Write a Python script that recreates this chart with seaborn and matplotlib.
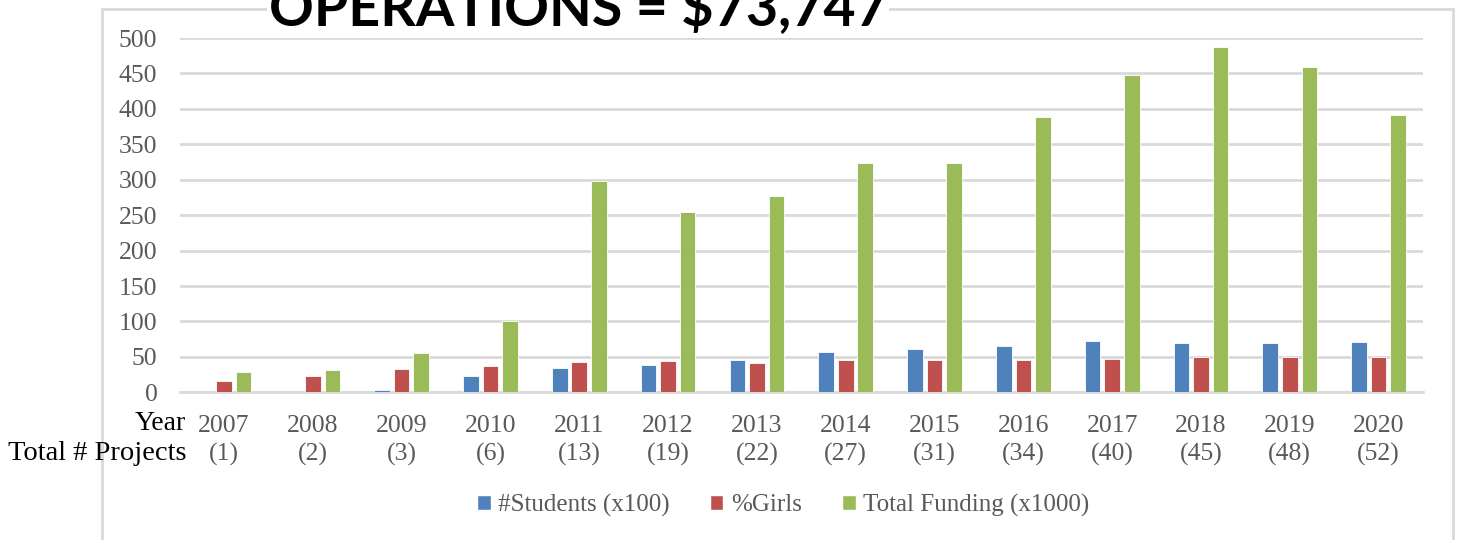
import pandas as pd
import matplotlib
matplotlib.use('Agg')
import matplotlib.pyplot as plt
import seaborn as sns
from matplotlib.patches import Rectangle

# values
years = ['2007', '2008', '2009', '2010', '2011', '2012', '2013',
         '2014', '2015', '2016', '2017', '2018', '2019', '2020']
projects = [1, 2, 3, 6, 13, 19, 22, 27, 31, 34, 40, 45, 48, 52]
students = [1, 1, 3, 22.5, 34, 38.5, 45.5, 56.8, 60.6, 65.7, 72.8, 70, 69, 70.9]
girls = [16, 23, 33, 37.5, 43, 44, 41.3, 45, 45, 45, 46.5, 49.3, 49.3, 50.2]
funding = [29, 31, 56, 100, 298, 254, 277, 323, 323, 389, 448, 488, 459, 391]
series = ['#Students (x100)', '%Girls', 'Total Funding (x1000)']
colors = ['#4F81BD', '#C0504D', '#9BBB59']

df = pd.DataFrame({'Year': years, series[0]: students, series[1]: girls, series[2]: funding})
long = df.melt(id_vars='Year', var_name='Series', value_name='Value')

sns.set_style('white')
plt.rcParams['font.family'] = ['Liberation Serif', 'DejaVu Serif']

fig = plt.figure(figsize=(14.58, 5.4), dpi=100)
ax = fig.add_axes([0.1232, 0.2735, 0.8528, 0.656])

sns.barplot(data=long, x='Year', y='Value', hue='Series', palette=colors, saturation=1,
            width=0.66, gap=0.2, ax=ax, legend=False, zorder=3,
            edgecolor='white', linewidth=0.6)

ax.set_ylim(0, 500)
ax.set_yticks(range(0, 501, 50))
ax.yaxis.grid(True, color='#D9D9D9', linewidth=2, zorder=0)
ax.set_axisbelow(True)
for s in ['top', 'right', 'left']:
    ax.spines[s].set_visible(False)
ax.spines['bottom'].set_color('#D9D9D9')
ax.spines['bottom'].set_linewidth(2)
ax.set_xlabel('')
ax.set_ylabel('')
ax.set_xticks(range(len(years)))
ax.set_xticklabels([f'{y}\n({p})' for y, p in zip(years, projects)], linespacing=1.35)
ax.tick_params(axis='x', length=0, pad=16, labelsize=18.5, labelcolor='#595959')
ax.tick_params(axis='y', length=0, pad=16, labelsize=18.5, labelcolor='#595959')

fig.text(186 / 1458, 1 - 423 / 540, 'Year', ha='right', va='center', fontsize=20, color='black',
         family=['Liberation Serif'])
fig.text(186 / 1458, 1 - 453 / 540, 'Total # Projects', ha='right', va='center', fontsize=20.5,
         color='black', family=['Liberation Serif'])

# outer chart frame
fig.patches.append(Rectangle((102 / 1458, -0.1), (1453 - 102) / 1458, 1.1 - 9 / 540,
                             transform=fig.transFigure, fill=False, edgecolor='#D9D9D9',
                             linewidth=2, zorder=0))

fig.text(578 / 1458, 1 - 25 / 540, 'OPERATIONS = $73,747', ha='center', va='baseline',
         fontsize=40, fontweight='bold', color='black',
         family=['Lato', 'DejaVu Sans'],
         bbox=dict(facecolor='white', edgecolor='none', pad=1), zorder=10)

handles = [Rectangle((0, 0), 1, 1, facecolor=c) for c in colors]
fig.legend(handles, series, loc='center', bbox_to_anchor=(783 / 1458, 1 - 505 / 540),
           ncol=3, frameon=False, fontsize=18, labelcolor='#595959',
           handlelength=0.55, handleheight=0.55, handletextpad=0.3, columnspacing=1.6)

plt.savefig('out.png', dpi=100)
